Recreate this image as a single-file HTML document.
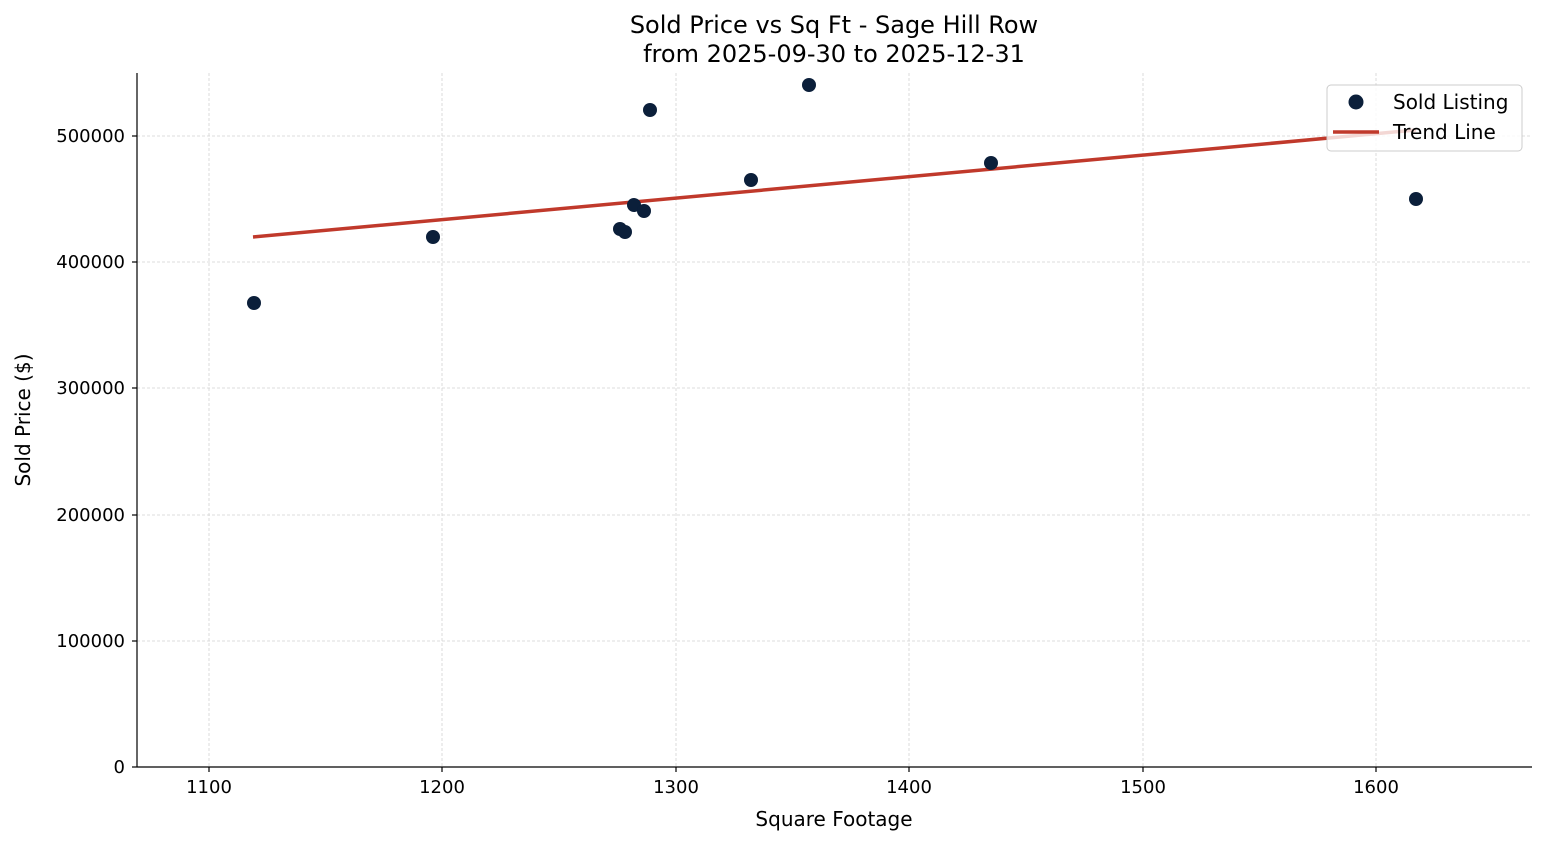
<!DOCTYPE html>
<html><head><style>body{margin:0;background:#fff}</style></head><body>
<svg width="1547" height="845" xmlns="http://www.w3.org/2000/svg" font-family="DejaVu Sans, Liberation Sans, sans-serif">
<rect width="1547" height="845" fill="#fff"/>
<g stroke="#d3d3d3" stroke-width="0.8" stroke-dasharray="3,2">
<line x1="209" y1="73" x2="209" y2="767"/><line x1="442" y1="73" x2="442" y2="767"/><line x1="676" y1="73" x2="676" y2="767"/><line x1="909" y1="73" x2="909" y2="767"/><line x1="1143" y1="73" x2="1143" y2="767"/><line x1="1376" y1="73" x2="1376" y2="767"/>
<line x1="137" y1="641" x2="1532" y2="641"/><line x1="137" y1="515" x2="1532" y2="515"/><line x1="137" y1="388" x2="1532" y2="388"/><line x1="137" y1="262" x2="1532" y2="262"/><line x1="137" y1="136" x2="1532" y2="136"/>
</g>
<line x1="253" y1="237" x2="1416" y2="130" stroke="#c0392b" stroke-width="3.5"/>
<g fill="#0b1f3a">
<circle cx="254" cy="303" r="7"/><circle cx="433" cy="237" r="7"/><circle cx="620" cy="229" r="7"/><circle cx="625" cy="232" r="7"/><circle cx="634" cy="205" r="7"/><circle cx="644" cy="211" r="7"/><circle cx="650" cy="110" r="7"/><circle cx="751" cy="180" r="7"/><circle cx="809" cy="85" r="7"/><circle cx="991" cy="163" r="7"/><circle cx="1416" cy="199" r="7"/>
</g>
<g stroke="#000" stroke-width="1.2">
<line x1="137" y1="73" x2="137" y2="767"/><line x1="137" y1="767" x2="1532" y2="767"/>
<line x1="209" y1="767" x2="209" y2="772"/><line x1="442" y1="767" x2="442" y2="772"/><line x1="676" y1="767" x2="676" y2="772"/><line x1="909" y1="767" x2="909" y2="772"/><line x1="1143" y1="767" x2="1143" y2="772"/><line x1="1376" y1="767" x2="1376" y2="772"/>
<line x1="132" y1="767" x2="137" y2="767"/><line x1="132" y1="641" x2="137" y2="641"/><line x1="132" y1="515" x2="137" y2="515"/><line x1="132" y1="388" x2="137" y2="388"/><line x1="132" y1="262" x2="137" y2="262"/><line x1="132" y1="136" x2="137" y2="136"/>
</g>
<g font-size="18" text-anchor="middle" fill="#000">
<text x="209" y="793">1100</text><text x="442" y="793">1200</text><text x="676" y="793">1300</text><text x="909" y="793">1400</text><text x="1143" y="793">1500</text><text x="1376" y="793">1600</text>
</g>
<g font-size="18" text-anchor="end" fill="#000">
<text x="125" y="773">0</text><text x="125" y="647">100000</text><text x="125" y="521">200000</text><text x="125" y="394">300000</text><text x="125" y="268">400000</text><text x="125" y="142">500000</text>
</g>
<text x="834" y="826" font-size="20" text-anchor="middle">Square Footage</text>
<text transform="translate(30,420) rotate(-90)" font-size="20" text-anchor="middle">Sold Price ($)</text>
<text x="834" y="33" font-size="24" text-anchor="middle">Sold Price vs Sq Ft - Sage Hill Row</text>
<text x="834" y="62" font-size="24" text-anchor="middle">from 2025-09-30 to 2025-12-31</text>
<rect x="1327" y="85" width="195" height="66" rx="4" fill="#fff" fill-opacity="0.8" stroke="#ccc"/>
<circle cx="1356" cy="102" r="7.5" fill="#0b1f3a"/>
<line x1="1333" y1="132" x2="1379" y2="132" stroke="#c0392b" stroke-width="3.5"/>
<text x="1393" y="109" font-size="20">Sold Listing</text>
<text x="1393" y="139" font-size="20">Trend Line</text>
</svg>
</body></html>
